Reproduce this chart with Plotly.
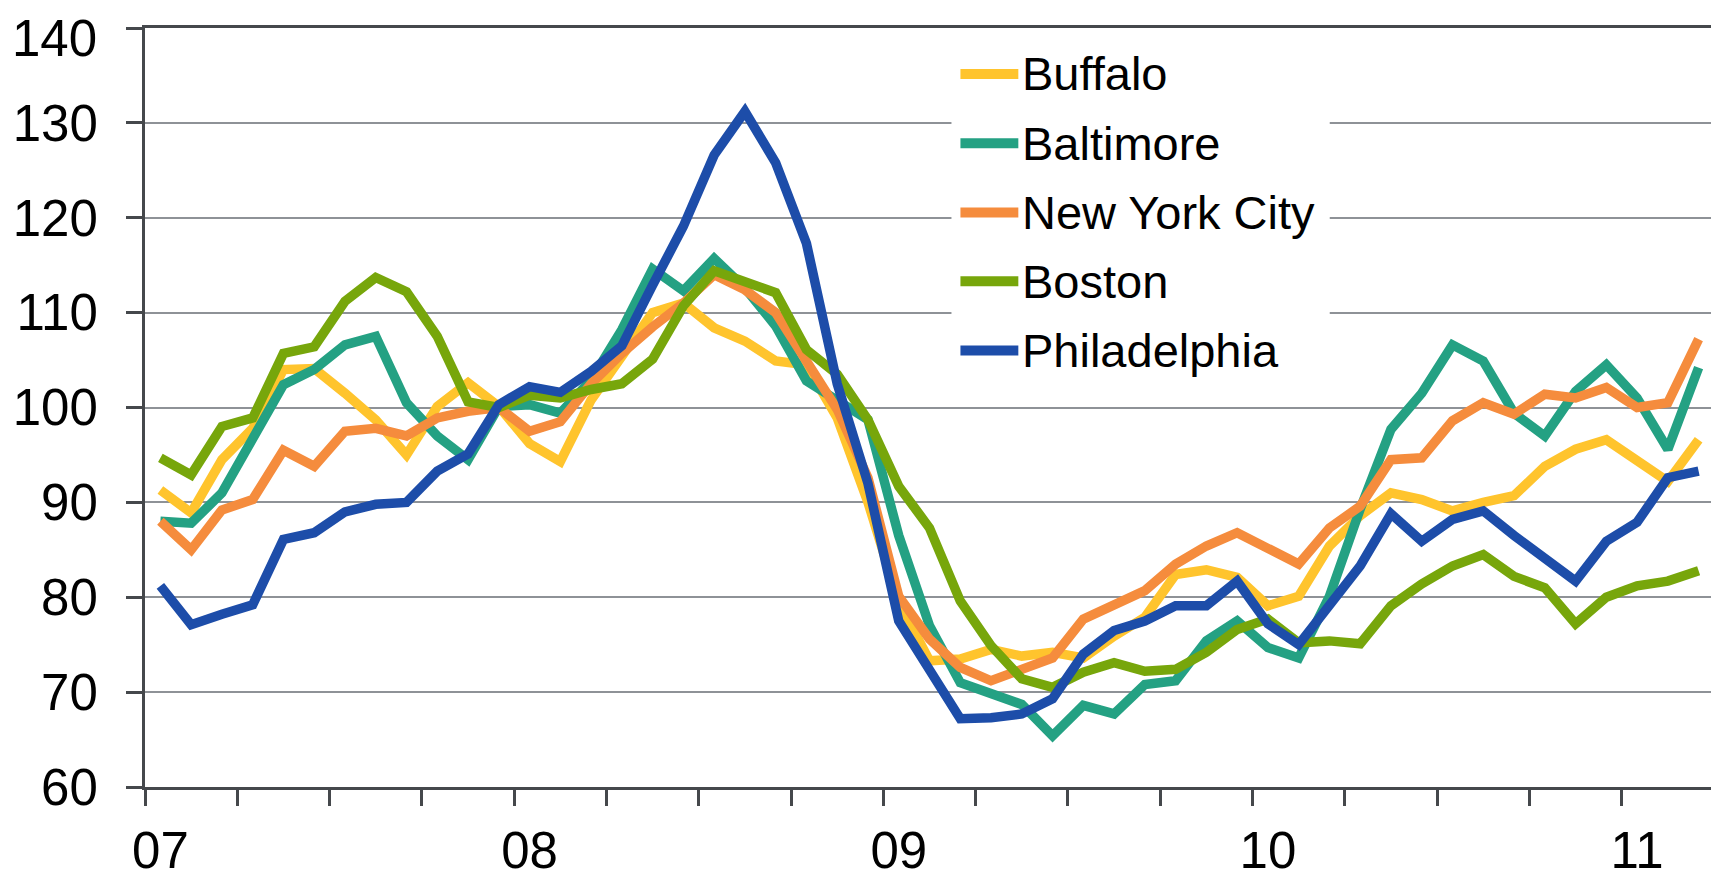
import plotly.graph_objects as go

# ---------------- data (monthly, Jan 2007 .. Mar 2011) ----------------
months = list(range(51))
year_tick_pos = [0, 12, 24, 36, 48]
year_labels = ["07", "08", "09", "10", "11"]
y_ticks = [60, 70, 80, 90, 100, 110, 120, 130, 140]
y_tick_labels = ["60", "70", "80", "90", "100", "110", "120", "130", "140"]

buffalo = [91.3, 88.9, 94.5, 97.8, 104.0, 104.1, 101.5, 98.7, 95.0, 100.1, 102.6,
           100.1, 96.2, 94.3, 100.8, 105.5, 110.0, 111.0, 108.4, 107.0, 104.9,
           104.5, 98.9, 90.0, 79.5, 73.3, 73.5, 74.5, 73.8, 74.2, 73.6,
           75.9, 77.9, 82.4, 82.9, 82.1, 79.1, 80.1, 85.4, 88.6, 91.0,
           90.3, 89.1, 90.0, 90.7, 93.8, 95.6, 96.6, 94.5, 92.2, 96.6]
baltimore = [88.0, 87.8, 91.0, 96.6, 102.4, 104.0, 106.6, 107.5, 100.5, 97.0, 94.5,
             100.1, 100.3, 99.4, 102.9, 108.2, 114.6, 112.3, 115.7, 112.6, 108.6,
             102.8, 100.8, 98.7, 86.5, 77.0, 71.0, 69.8, 68.7, 65.4, 68.6,
             67.7, 70.8, 71.2, 75.4, 77.5, 74.7, 73.6, 80.1, 89.3, 97.7,
             101.5, 106.6, 104.9, 99.4, 97.0, 101.7, 104.5, 101.0, 95.6, 104.2]
new_york = [88.0, 85.0, 89.2, 90.3, 95.5, 93.8, 97.5, 97.8, 97.0, 98.9, 99.6,
            100.0, 97.5, 98.5, 102.5, 105.7, 108.5, 111.0, 114.0, 112.4, 110.0,
            105.1, 99.8, 92.6, 80.1, 75.6, 72.6, 71.2, 72.4, 73.6, 77.7,
            79.3, 80.7, 83.5, 85.4, 86.8, 85.1, 83.5, 87.3, 89.6, 94.5,
            94.7, 98.6, 100.5, 99.3, 101.4, 101.0, 102.1, 100.0, 100.5, 107.2]
boston = [94.7, 92.9, 98.0, 98.9, 105.7, 106.4, 111.2, 113.7, 112.2, 107.5, 100.6,
          100.0, 101.3, 101.0, 101.9, 102.5, 105.1, 110.7, 114.4, 113.3, 112.1,
          106.1, 103.5, 98.7, 91.7, 87.3, 79.6, 74.9, 71.4, 70.5, 72.1,
          73.1, 72.2, 72.4, 74.2, 76.6, 77.7, 75.2, 75.4, 75.1, 79.1,
          81.4, 83.3, 84.5, 82.2, 81.0, 77.2, 80.0, 81.2, 81.7, 82.8]
philadelphia = [81.2, 77.1, 78.2, 79.2, 86.1, 86.8, 89.0, 89.8, 90.0, 93.3, 95.1,
                100.3, 102.2, 101.6, 103.8, 106.5, 112.9, 119.1, 126.6, 131.2, 125.8,
                117.3, 102.5, 92.0, 77.5, 72.4, 67.2, 67.3, 67.7, 69.3, 74.0,
                76.5, 77.5, 79.1, 79.1, 81.7, 77.2, 75.0, 79.2, 83.3, 88.8,
                85.9, 88.2, 89.1, 86.5, 84.0, 81.7, 85.9, 87.9, 92.6, 93.3]

series_names = ["Buffalo", "Baltimore", "New York City", "Boston", "Philadelphia"]
series_values = [buffalo, baltimore, new_york, boston, philadelphia]
series_colors = ["#FFC42D", "#24A183", "#F58C3D", "#77A60B", "#1D4DA9"]

# quarterly tick marks between month categories
quarter_ticks = [-0.5 + 3 * k for k in range(18)]

AX = "#45484C"
GRID = "#8E9297"
FONT = "Liberation Sans, Arial, sans-serif"

# figure sized to fit inside the page's default 8px body margin
W, H = 1711, 873
ML, MR, MT, MB = 137, 2, 20, 93
PW, PH = W - ML - MR, H - MT - MB

fig = go.Figure()
for name, vals, col in zip(series_names, series_values, series_colors):
    fig.add_trace(go.Scatter(x=months, y=vals, mode="lines", name=name,
                             line=dict(color=col, width=9.5), showlegend=False))


def px_x(p):
    return (p - ML) / PW


def px_y(p):
    return (H - MB - p) / PH


# manual legend (long swatches like the original)
shapes = [dict(type="rect", xref="paper", yref="paper",
               x0=px_x(945), x1=px_x(1324), y0=px_y(387), y1=px_y(34),
               fillcolor="white", line=dict(width=0), layer="above")]
annotations = []
leg_y = [66, 135.3, 204.7, 273.7, 343]
for name, col, ly in zip(series_names, series_colors, leg_y):
    shapes.append(dict(type="line", xref="paper", yref="paper",
                       x0=px_x(954), x1=px_x(1012), y0=px_y(ly), y1=px_y(ly),
                       line=dict(color=col, width=10), layer="above"))
    annotations.append(dict(xref="paper", yref="paper", x=px_x(1014), y=px_y(ly),
                            text=name, showarrow=False, xanchor="left", yanchor="middle",
                            font=dict(size=47, color="black", family=FONT)))

# the top tick label would overflow the page edge as an axis label,
# so it is placed as a text annotation kept inside the figure
annotations.append(dict(xref="paper", yref="paper", x=0, y=1, xanchor="right",
                        yanchor="top", xshift=-46, yshift=MT, showarrow=False,
                        text=y_tick_labels[-1],
                        font=dict(size=51, color="black", family=FONT)))

fig.update_layout(
    width=W, height=H,
    margin=dict(l=ML, r=MR, t=MT, b=MB, pad=0),
    paper_bgcolor="white", plot_bgcolor="white",
    font=dict(family=FONT, color="black"),
    showlegend=False,
    shapes=shapes, annotations=annotations,
    xaxis=dict(range=[-0.5, 50.5], tickmode="array", tickvals=year_tick_pos,
               ticktext=year_labels, ticks="", showgrid=False, zeroline=False,
               showline=True, linecolor=AX, linewidth=3, mirror=True,
               tickfont=dict(size=51, color="black"), ticklabelstandoff=17,
               minor=dict(tickmode="array", tickvals=quarter_ticks, ticks="outside",
                          ticklen=16, tickwidth=3, tickcolor=AX, showgrid=False)),
    xaxis2=dict(overlaying="x", anchor="y", side="bottom", range=[-0.5, 50.5],
                tickmode="array", tickvals=quarter_ticks, ticks="inside", ticklen=16,
                tickwidth=3, tickcolor=AX, showticklabels=False, showgrid=False,
                showline=False, zeroline=False),
    yaxis=dict(range=[60, 140], tickmode="array", tickvals=y_ticks,
               ticktext=y_tick_labels[:-1] + [""], ticks="outside",
               ticklen=16, tickwidth=3, tickcolor=AX, showgrid=True, gridcolor=GRID,
               gridwidth=2, zeroline=False, showline=True, linecolor=AX, linewidth=3,
               mirror=True, tickfont=dict(size=51, color="black"), ticklabelstandoff=18),
    yaxis2=dict(overlaying="y", anchor="x", side="left", range=[60, 140],
                tickmode="array", tickvals=y_ticks, ticks="inside", ticklen=16,
                tickwidth=3, tickcolor=AX, showticklabels=False, showgrid=False,
                showline=False, zeroline=False),
)

fig.write_html("out.html")
